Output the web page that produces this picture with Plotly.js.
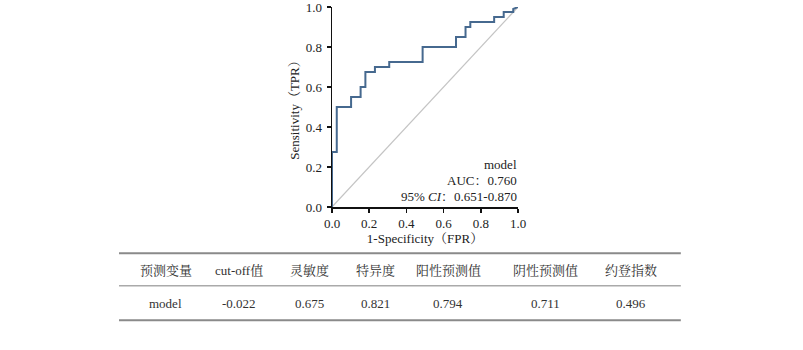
<!DOCTYPE html>
<html>
<head>
<meta charset="utf-8">
<script src="https://cdn.plot.ly/plotly-3.0.1.min.js"></script>
<style>html,body{margin:0;padding:0;background:#fff;}#chart{width:803px;height:350px;}</style>
</head>
<body>
<div id="chart"></div>
<script>
// ROC curve vertices (FPR, TPR)
const fpr = [0, 0, 0.0256, 0.0256, 0.1026, 0.1026, 0.1538, 0.1538, 0.1795, 0.1795, 0.2308, 0.2308, 0.3077, 0.3077, 0.4872, 0.4872, 0.6667, 0.6667, 0.7179, 0.7179, 0.7436, 0.7436, 0.8718, 0.8718, 0.9231, 0.9231, 0.9744, 0.9744, 1.0];
const tpr = [0, 0.275, 0.275, 0.5, 0.5, 0.55, 0.55, 0.6, 0.6, 0.675, 0.675, 0.7, 0.7, 0.725, 0.725, 0.8, 0.8, 0.85, 0.85, 0.9, 0.9, 0.925, 0.925, 0.95, 0.95, 0.975, 0.975, 0.99, 1.0];
const refX = [0, 1];
const refY = [0, 1];
const legendLines = ["model", "AUC：0.760", "95% <i>CI</i>：0.651-0.870"];
const tableHeader = ["预测变量", "cut-off值", "灵敏度", "特异度", "阳性预测值", "阴性预测值", "约登指数"];
const tableRow = ["model", "-0.022", "0.675", "0.821", "0.794", "0.711", "0.496"];
const tickVals = [0, 0.2, 0.4, 0.6, 0.8, 1.0];
const tickText = ['0.0', '0.2', '0.4', '0.6', '0.8', '1.0'];

const FONT = "Liberation Serif, 'Noto Serif CJK SC', 'Noto Sans CJK SC', serif";
const L = 332.3, R = 517.7, T = 7.3, B = 207.3;
const px2x = p => (p - L) / (R - L);
const py2y = p => (B - p) / (B - T);

const colCenters = [166.5, 240, 310, 375.5, 448, 545.5, 630];

const annotations = [];
legendLines.forEach((t, i) => {
  annotations.push({xref: 'paper', yref: 'paper', x: px2x(519), y: py2y([165, 181, 196.5][i]),
    text: t, showarrow: false, xanchor: 'right', yanchor: 'middle',
    font: {family: FONT, size: 13, color: '#222'}});
});
tableHeader.forEach((t, i) => {
  annotations.push({xref: 'paper', yref: 'paper', x: px2x(colCenters[i]), y: py2y(271),
    text: t, showarrow: false, xanchor: 'center', yanchor: 'middle',
    font: {family: FONT, size: 13, color: '#333'}});
});
tableRow.forEach((t, i) => {
  annotations.push({xref: 'paper', yref: 'paper', x: px2x(colCenters[i]), y: py2y(303.5),
    text: t, showarrow: false, xanchor: 'center', yanchor: 'middle',
    font: {family: FONT, size: 13, color: '#333'}});
});

const hline = (py, w, c) => ({type: 'line', xref: 'paper', yref: 'paper',
  x0: px2x(120), x1: px2x(680), y0: py2y(py), y1: py2y(py), line: {color: c, width: w}});

const shapes = [hline(253.5, 2, '#8a8a8a'), hline(286, 1.5, '#aaaaaa'), hline(320.5, 2, '#8a8a8a')];

const data = [
  {x: refX, y: refY, type: 'scatter', mode: 'lines', line: {color: '#c4c4c4', width: 1.2}, hoverinfo: 'skip'},
  {x: fpr, y: tpr, type: 'scatter', mode: 'lines', line: {color: '#46698f', width: 2}, hoverinfo: 'skip'}
];

const axisCommon = {
  range: [0, 1], tickvals: tickVals, ticktext: tickText,
  showgrid: false, zeroline: false, showline: true, linecolor: '#111', linewidth: 1.5,
  ticks: 'outside', ticklen: 4, tickcolor: '#111', tickwidth: 1.5,
  ticklabeloverflow: 'allow',
  tickfont: {family: FONT, size: 13, color: '#222'}
};

const layout = {
  width: 803, height: 350,
  margin: {l: L, r: 803 - R, t: T, b: 350 - B, pad: 0},
  paper_bgcolor: '#fff', plot_bgcolor: '#fff',
  showlegend: false,
  font: {family: FONT, size: 12, color: '#222'},
  xaxis: Object.assign({}, axisCommon, {ticklabelstandoff: 0,
    title: {text: '1-Specificity（FPR）', font: {family: FONT, size: 13, color: '#222'}, standoff: 2}}),
  yaxis: Object.assign({}, axisCommon, {ticklabelstandoff: 2,
    title: {text: 'Sensitivity（TPR）', font: {family: FONT, size: 13, color: '#222'}, standoff: 3}}),
  annotations: annotations,
  shapes: shapes
};

Plotly.newPlot('chart', data, layout, {staticPlot: true, displayModeBar: false});
</script>
</body>
</html>
